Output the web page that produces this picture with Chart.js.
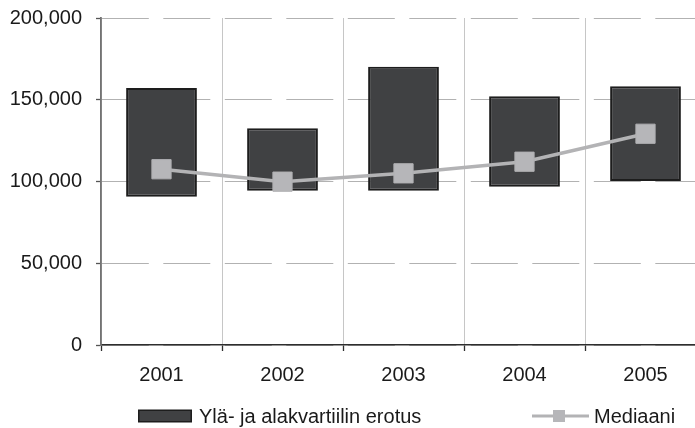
<!DOCTYPE html>
<html>
<head>
<meta charset="utf-8">
<script src="https://cdn.jsdelivr.net/npm/chart.js@4/dist/chart.umd.min.js"></script>
<style>
  html, body { margin: 0; padding: 0; overflow: hidden; background: #ffffff; }
  #chart { display: block; }
</style>
</head>
<body>
<canvas id="chart" width="710" height="428"></canvas>
<script>
// Vuodet ja tunnusluvut
const categories = ['2001', '2002', '2003', '2004', '2005'];
const lowerQuartile = [90700, 94400, 94400, 96800, 100300];
const upperQuartile = [157200, 132500, 170200, 152100, 158200];
const median = [107500, 99900, 105000, 112100, 129200];
const yTicks = [0, 50000, 100000, 150000, 200000];

const FONT = '"Liberation Sans", Arial, sans-serif';
const TEXT = '#1a1a1a';

// Kvartiiliväli kelluvina pylväinä [ala, ylä]
const quartileRange = lowerQuartile.map((lo, i) => [lo, upperQuartile[i]]);

const fmt = v => v.toLocaleString('en-US');

// Selite piirretään itse kaavion alle
const legendPlugin = {
  id: 'bottomLegend',
  afterDraw(chart) {
    const ctx = chart.ctx;
    const ds = chart.data.datasets;
    const bar = ds.find(d => d.type === 'bar');
    const line = ds.find(d => d.type === 'line');
    const cy = 416;
    ctx.save();
    ctx.font = '20px ' + FONT;
    ctx.textBaseline = 'middle';
    ctx.textAlign = 'left';

    // pylväsnäyte
    ctx.fillStyle = bar.borderColor;
    ctx.fillRect(138, cy - 6.5, 54, 13);
    ctx.fillStyle = bar.backgroundColor;
    ctx.fillRect(139.5, cy - 5, 51, 10);
    ctx.fillStyle = TEXT;
    ctx.fillText(bar.label, 199, cy + 1);

    // viivanäyte
    ctx.strokeStyle = line.borderColor;
    ctx.lineWidth = 3;
    ctx.beginPath();
    ctx.moveTo(532, cy);
    ctx.lineTo(589, cy);
    ctx.stroke();
    ctx.fillStyle = line.pointBackgroundColor;
    ctx.fillRect(553, cy - 6, 12, 12);
    ctx.fillStyle = TEXT;
    ctx.fillText(line.label, 594, cy + 1);
    ctx.restore();
  }
};

new Chart(document.getElementById('chart'), {
  data: {
    labels: categories,
    datasets: [
      {
        type: 'line',
        label: 'Mediaani',
        data: median,
        order: 0,
        borderColor: '#b3b3b5',
        borderWidth: 3.5,
        tension: 0,
        pointStyle: 'rect',
        pointRadius: 13.6,
        pointBackgroundColor: '#b6b6b9',
        pointBorderColor: '#b0b0b3',
        pointBorderWidth: 1
      },
      {
        type: 'bar',
        label: 'Ylä- ja alakvartiilin erotus',
        data: quartileRange,
        order: 1,
        backgroundColor: '#404143',
        borderColor: '#1d1d1d',
        borderWidth: 2,
        borderSkipped: false,
        categoryPercentage: 1,
        barPercentage: 0.585
      }
    ]
  },
  options: {
    responsive: false,
    animation: false,
    layout: { autoPadding: false, padding: { top: 18, right: 4, bottom: 38, left: 0 } },
    plugins: {
      legend: { display: false },
      tooltip: { enabled: false }
    },
    scales: {
      x: {
        offset: true,
        grid: {
          offset: true,
          color: '#c6c6c6',
          lineWidth: 1,
          tickLength: 6,
          tickColor: '#2e2e2e',
          tickWidth: 1.3
        },
        border: { color: '#2e2e2e', width: 1.5 },
        ticks: {
          padding: 12,
          color: TEXT,
          font: { family: FONT, size: 20 }
        },
        afterFit(scale) {
          scale.height = 45;
          scale.paddingLeft = 0;
          scale.paddingRight = 0;
        }
      },
      y: {
        min: 0,
        max: 200000,
        afterBuildTicks(scale) { scale.ticks = yTicks.map(v => ({ value: v })); },
        grid: {
          color: '#b2b2b2',
          lineWidth: 1,
          tickLength: 5,
          tickColor: '#555555',
          tickBorderDash: [],
          tickWidth: 1.3
        },
        border: { color: '#737373', width: 1.8, dash: [47, 14.5] },
        ticks: {
          padding: 14,
          color: TEXT,
          font: { family: FONT, size: 20 },
          callback: v => fmt(v)
        },
        afterFit(scale) {
          scale.width = 101;
          scale.paddingTop = 0;
          scale.paddingBottom = 0;
        }
      }
    }
  },
  plugins: [legendPlugin]
});
</script>
</body>
</html>
